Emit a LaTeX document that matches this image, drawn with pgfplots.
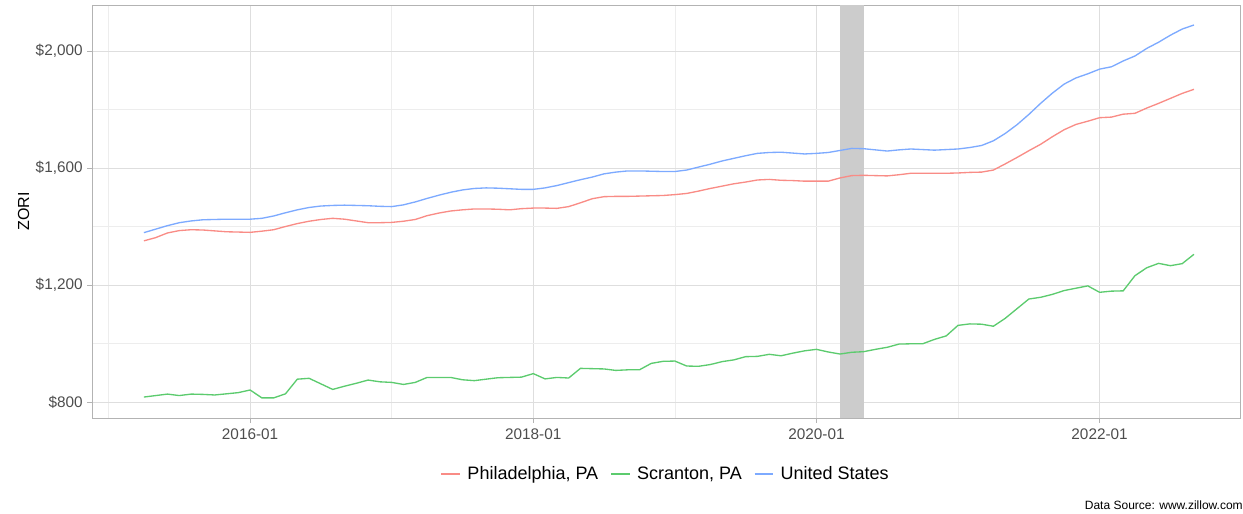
\documentclass[border=0pt]{standalone}
\usepackage{fontspec}
\setmainfont{Liberation Sans}
\usepackage{pgfplots}
\pgfplotsset{compat=1.18}
\definecolor{phl}{HTML}{F98C86}
\definecolor{scr}{HTML}{5CCB6E}
\definecolor{usa}{HTML}{7DAAFF}
\definecolor{gridmaj}{HTML}{DEDEDE}
\definecolor{gridmin}{HTML}{EDEDED}
\definecolor{bord}{HTML}{B3B3B3}
\definecolor{ticktxt}{HTML}{4D4D4D}
\begin{document}
\begin{tikzpicture}
\useasboundingbox (0pt,0pt) rectangle (932.25pt,385.5pt);
\begin{axis}[
  at={(69pt,72pt)}, anchor=south west,
  scale only axis,
  width=861pt, height=309.75pt,
  xmin=-1.4, xmax=95.9,
  ymin=745.3, ymax=2157.3,
  axis line style={draw=bord, line width=0.6pt},
  xtick={12,36,60,84},
  xticklabels={2016-01,2018-01,2020-01,2022-01},
  minor xtick={0,24,48,72},
  ytick={800,1200,1600,2000},
  yticklabels={\$800,\$1{,}200,\$1{,}600,\$2{,}000},
  minor ytick={1000,1400,1800},
  grid=both,
  major grid style={draw=gridmaj, line width=0.6pt},
  minor grid style={draw=gridmin, line width=0.4pt},
  tick align=outside,
  major tick length=3.5pt,
  minor tick length=0pt,
  tick style={draw=bord, line width=0.6pt},
  xtick pos=bottom, ytick pos=left,
  ticklabel style={font=\fontsize{11.5}{13}\selectfont, text=ticktxt},
  xticklabel style={yshift=-1pt},
  ylabel={ZORI},
  ylabel style={font=\fontsize{12}{14}\selectfont, yshift=-2pt},
  legend style={at={(0.5,-0.135)}, anchor=center, draw=none, fill=none,
    font=\fontsize{13.5}{15}\selectfont,
    /tikz/every even column/.append style={column sep=7pt}},
  legend columns=-1,
  legend image code/.code={\draw[#1, line width=1.2pt] (0pt,0pt) -- (14pt,0pt); \path (17pt,0pt);},
  clip=true,
]
\fill[black!20] (axis cs:62,745.3) rectangle (axis cs:64,2157.3);
\addplot[draw=phl, line width=1pt] table {
x y
3 1351
4 1362
5 1378
6 1386
7 1389
8 1388
9 1385
10 1382
11 1381
12 1380
13 1384
14 1389
15 1400
16 1410
17 1418
18 1424
19 1428
20 1425
21 1419
22 1413
23 1413
24 1414
25 1418
26 1424
27 1437
28 1446
29 1453
30 1457
31 1460
32 1460
33 1459
34 1457
35 1461
36 1463
37 1463
38 1462
39 1468
40 1481
41 1495
42 1502
43 1503
44 1503
45 1504
46 1505
47 1506
48 1509
49 1513
50 1521
51 1530
52 1538
53 1546
54 1552
55 1559
56 1561
57 1558
58 1557
59 1555
60 1555
61 1555
62 1566
63 1574
64 1575
65 1574
66 1573
67 1577
68 1582
69 1582
70 1582
71 1582
72 1583
73 1585
74 1586
75 1593
76 1614
77 1636
78 1659
79 1681
80 1707
81 1731
82 1749
83 1760
84 1772
85 1774
86 1784
87 1787
88 1805
89 1821
90 1838
91 1855
92 1869
};
\addlegendentry{Philadelphia, PA}
\addplot[draw=scr, line width=1pt] table {
x y
3 817
4 822
5 827
6 822
7 827
8 826
9 824
10 828
11 832
12 841
13 814
14 814
15 828
16 878
17 881
18 862
19 843
20 854
21 864
22 875
23 869
24 867
25 860
26 867
27 884
28 884
29 884
30 876
31 873
32 878
33 883
34 884
35 885
36 897
37 879
38 884
39 882
40 915
41 914
42 913
43 908
44 910
45 910
46 932
47 939
48 940
49 923
50 922
51 928
52 938
53 944
54 955
55 956
56 963
57 958
58 967
59 975
60 980
61 971
62 964
63 970
64 972
65 980
66 987
67 998
68 999
69 999
70 1014
71 1026
72 1062
73 1067
74 1066
75 1059
76 1086
77 1119
78 1152
79 1158
80 1168
81 1181
82 1189
83 1197
84 1175
85 1179
86 1180
87 1232
88 1259
89 1274
90 1266
91 1273
92 1305
};
\addlegendentry{Scranton, PA}
\addplot[draw=usa, line width=1pt] table {
x y
3 1379
4 1391
5 1403
6 1413
7 1419
8 1423
9 1424
10 1425
11 1425
12 1425
13 1428
14 1436
15 1447
16 1457
17 1465
18 1470
19 1472
20 1473
21 1472
22 1471
23 1469
24 1468
25 1474
26 1484
27 1496
28 1507
29 1517
30 1525
31 1530
32 1532
33 1531
34 1529
35 1527
36 1527
37 1532
38 1540
39 1550
40 1560
41 1569
42 1580
43 1586
44 1590
45 1590
46 1589
47 1588
48 1588
49 1593
50 1603
51 1613
52 1624
53 1633
54 1642
55 1650
56 1653
57 1654
58 1651
59 1648
60 1650
61 1653
62 1660
63 1667
64 1666
65 1662
66 1658
67 1662
68 1665
69 1663
70 1661
71 1663
72 1665
73 1670
74 1677
75 1693
76 1718
77 1748
78 1783
79 1821
80 1856
81 1887
82 1908
83 1922
84 1938
85 1946
86 1966
87 1983
88 2009
89 2030
90 2054
91 2075
92 2089
};
\addlegendentry{United States}
\end{axis}
\node[anchor=base east, font=\fontsize{9}{11}\selectfont, inner sep=0pt] at (932.25pt,3pt) {Data Source: www.zillow.com};
\end{tikzpicture}
\end{document}
